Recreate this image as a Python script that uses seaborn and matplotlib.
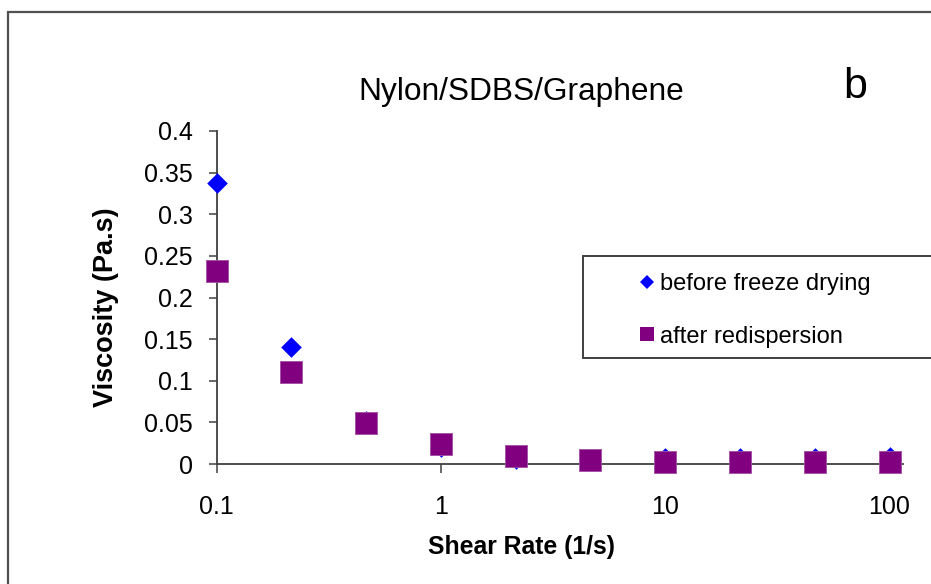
import matplotlib
matplotlib.use("Agg")
import matplotlib.pyplot as plt
from matplotlib.lines import Line2D
from matplotlib.patches import Rectangle
from matplotlib.ticker import NullLocator, FixedLocator, FixedFormatter
import seaborn as sns
import pandas as pd

# ---- data ----
shear_rate = [0.1, 0.215, 0.464, 1, 2.15, 4.64, 10, 21.5, 46.4, 100]
before_freeze = [0.337, 0.140, 0.052, 0.020, 0.0066, 0.006, 0.0068, 0.0068, 0.0068, 0.0089]
after_redisp = [0.232, 0.110, 0.049, 0.024, 0.0102, 0.0046, 0.0026, 0.0022, 0.0022, 0.0022]
series_names = ["before freeze drying", "after redispersion"]
x_ticks = [0.1, 1, 10, 100]
x_tick_labels = ["0.1", "1", "10", "100"]
y_ticks = [0, 0.05, 0.1, 0.15, 0.2, 0.25, 0.3, 0.35, 0.4]
y_tick_labels = ["0", "0.05", "0.1", "0.15", "0.2", "0.25", "0.3", "0.35", "0.4"]

sns.set_style("white")
plt.rcParams["font.family"] = ["Liberation Sans", "DejaVu Sans"]
plt.rcParams["text.color"] = "black"
plt.rcParams["axes.labelcolor"] = "black"

W, H = 931, 584
fig = plt.figure(figsize=(W / 100, H / 100), dpi=100)
ax = fig.add_axes([216.7 / W, (H - 464) / H, (903 - 216.7) / W, (464 - 131) / H])

df_b = pd.DataFrame({"x": shear_rate, "y": before_freeze})
df_a = pd.DataFrame({"x": shear_rate, "y": after_redisp})
sns.scatterplot(data=df_b, x="x", y="y", marker="D", color="#0000FF", s=110,
                linewidth=0, ax=ax, clip_on=False, zorder=3)
sns.scatterplot(data=df_a, x="x", y="y", marker="s", color="#800080", s=265,
                edgecolor="#A050A0", linewidth=0.6, ax=ax, clip_on=False, zorder=4)

ax.set_xscale("log")
ax.set_xlim(0.1, 114.8)
ax.set_ylim(0, 0.4)
ax.xaxis.set_major_locator(FixedLocator(x_ticks))
ax.xaxis.set_major_formatter(FixedFormatter(x_tick_labels))
ax.xaxis.set_minor_locator(NullLocator())
ax.yaxis.set_major_locator(FixedLocator(y_ticks))
ax.yaxis.set_major_formatter(FixedFormatter(y_tick_labels))
ax.set_xlabel("")
ax.set_ylabel("")

for side in ["top", "right"]:
    ax.spines[side].set_visible(False)
for side in ["left", "bottom"]:
    ax.spines[side].set_color("#404040")
    ax.spines[side].set_linewidth(1.3)

ax.tick_params(axis="x", direction="out", length=6.5, width=1.1, color="#404040",
               pad=16, labelsize=18, labelcolor="black", bottom=True)
ax.tick_params(axis="y", direction="out", length=5.8, width=1.1, color="#404040",
               pad=11.5, labelsize=18, labelcolor="black", left=True)

# outer chart frame
fig.add_artist(Rectangle((8.3 / W, -0.2), 2.0, (H - 12) / H + 0.2, transform=fig.transFigure,
                         fill=False, edgecolor="#505050", linewidth=1.6, zorder=0))

# legend box (extends past right edge)
fig.add_artist(Rectangle((583 / W, (H - 358) / H), (960 - 583) / W, 102 / H,
                         transform=fig.transFigure, facecolor="white",
                         edgecolor="#404040", linewidth=1.4, zorder=5))
handles = [
    Line2D([], [], marker="D", color="#0000FF", linestyle="none", markersize=7.6, markeredgewidth=0),
    Line2D([], [], marker="s", color="#800080", linestyle="none", markersize=10, markeredgewidth=0),
]
leg = fig.legend(handles, series_names, loc="upper left",
                 bbox_to_anchor=(640 / W, (H - 273) / H), bbox_transform=fig.transFigure,
                 frameon=False, fontsize=17, handlelength=0.6, handletextpad=0.26,
                 borderpad=0, borderaxespad=0, labelspacing=1.3)
leg.set_zorder(6)

# texts
fig.text(521 / W, (H - 100) / H, "Nylon/SDBS/Graphene", ha="center", va="baseline", fontsize=22.8)
fig.text(855 / W, (H - 98) / H, "b", ha="center", va="baseline", fontsize=31)
fig.text(106 / W, (H - 307.5) / H, "Viscosity (Pa.s)", rotation=90, ha="center", va="center",
         fontsize=19.5, fontweight="bold")
fig.text(521 / W, (H - 554) / H, "Shear Rate (1/s)", ha="center", va="baseline",
         fontsize=17.8, fontweight="bold")

fig.savefig("out.png", dpi=100)
